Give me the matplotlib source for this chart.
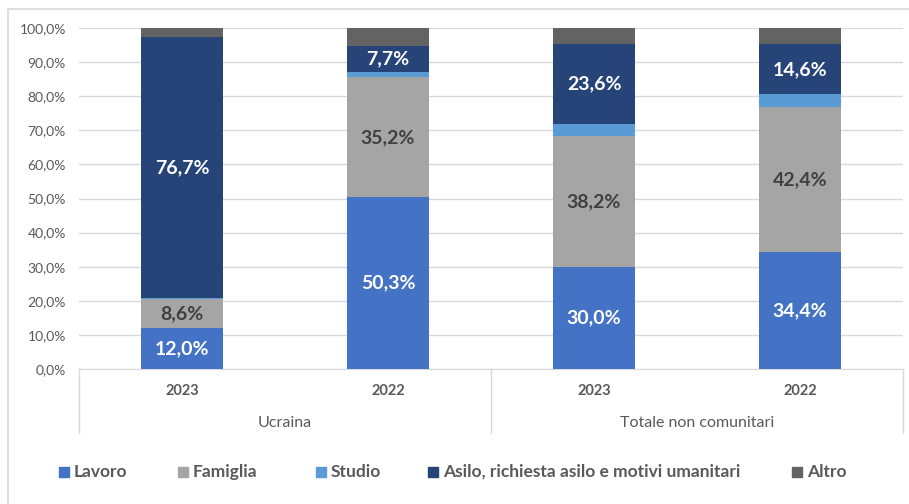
import matplotlib.pyplot as plt
import matplotlib.patches as patches
import matplotlib.transforms as mtrans
import numpy as np

# --- Data (percent) ---
years = ['2023', '2022', '2023', '2022']
groups = ['Ucraina', 'Totale non comunitari']
series = ['Lavoro', 'Famiglia', 'Studio', 'Asilo, richiesta asilo e motivi umanitari', 'Altro']
lavoro = [12.0, 50.3, 30.0, 34.4]
famiglia = [8.6, 35.2, 38.2, 42.4]
studio = [0.2, 1.5, 3.6, 3.8]
asilo = [76.7, 7.7, 23.6, 14.6]
altro = [2.5, 5.3, 4.6, 4.8]

COLORS = ['#4472C4', '#A5A5A5', '#5B9BD5', '#264478', '#636363']
LABEL_COL = ['white', '#404040', None, 'white', None]
TXT = '#595959'
GRID = '#D9D9D9'

plt.rcParams['font.family'] = ['Lato', 'DejaVu Sans']

fig = plt.figure(figsize=(9.09, 5.04), dpi=100)
fig.patch.set_facecolor('white')
W, H = 909, 504

def fx(px):
    return px / W

def fy(py):
    return 1 - py / H

# chart frame (right and bottom edges fall outside the image)
fig.add_artist(patches.Rectangle((fx(8), fy(520)), fx(920) - fx(8), fy(9) - fy(520),
                                 transform=fig.transFigure, fill=False, edgecolor=GRID, lw=1.2))

ax = fig.add_axes([fx(79), fy(369), fx(903) - fx(79), fy(28) - fy(369)])
x = np.arange(len(years))
width = 0.4
bottom = np.zeros(len(years))
data = [lavoro, famiglia, studio, asilo, altro]
for vals, col, lcol, name in zip(data, COLORS, LABEL_COL, series):
    vals = np.array(vals)
    ax.bar(x, vals, width, bottom=bottom, color=col, label=name, zorder=3)
    if lcol is not None:
        for xi, b, v in zip(x, bottom, vals):
            ax.text(xi, b + v / 2, f'{v:.1f}%'.replace('.', ','), ha='center', va='center',
                    color=lcol, fontsize=14, fontweight='bold', zorder=4)
    bottom += vals

ax.set_xlim(-0.5, 3.5)
ax.set_ylim(0, 100)
ax.set_yticks(np.arange(0, 101, 10))
ax.set_yticklabels([f'{v:.1f}%'.replace('.', ',') for v in np.arange(0, 101, 10)],
                   color=TXT, fontsize=10)
ax.tick_params(axis='y', length=0, pad=9.5)
ax.set_xticks([])
ax.grid(axis='y', color=GRID, lw=1, zorder=0)
for s in ['top', 'right', 'left']:
    ax.spines[s].set_visible(False)
ax.spines['bottom'].set_color(GRID)

# category axis: years, groups and separators
tr = mtrans.blended_transform_factory(ax.transData, fig.transFigure)
for xi, yr in zip(x, years):
    ax.text(xi, fy(391), yr, transform=tr, ha='center', va='center',
            color=TXT, fontsize=10.5, fontweight='bold')
for gi, g in enumerate(groups):
    ax.text(gi * 2 + 0.5, fy(423), g, transform=tr, ha='center', va='center',
            color=TXT, fontsize=11.5)
for xl in [-0.5, 1.5, 3.5]:
    ax.plot([xl, xl], [fy(369), fy(433)], transform=tr, color=GRID, lw=1, clip_on=False)

# legend
leg_x = [59, 178, 316, 428, 792]
for lx, col, name in zip(leg_x, COLORS, series):
    fig.add_artist(patches.Rectangle((fx(lx), fy(477)), fx(10), fy(467) - fy(477),
                                     transform=fig.transFigure, color=col))
    fig.text(fx(lx + 15), fy(472), name, ha='left', va='center', color=TXT,
             fontsize=12.5, fontweight='bold')

fig.savefig('out.png', dpi=100, facecolor='white')
